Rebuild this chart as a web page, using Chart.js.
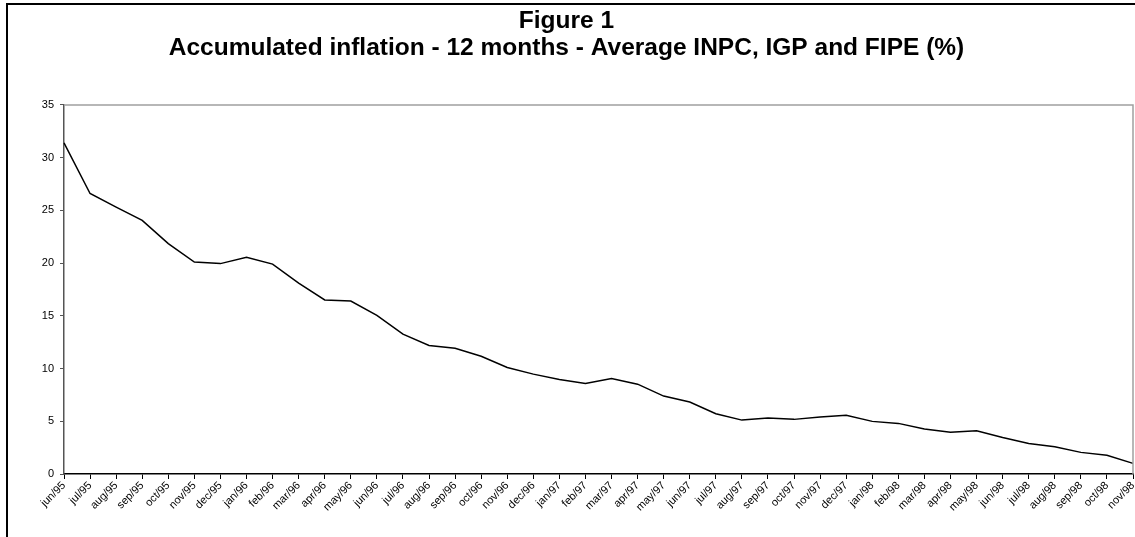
<!DOCTYPE html>
<html>
<head>
<meta charset="utf-8">
<script src="https://cdn.jsdelivr.net/npm/chart.js@4/dist/chart.umd.min.js"></script>
<style>
  html, body { margin: 0; padding: 0; background: #fff; overflow: hidden; }
  #frame { position: absolute; left: 6px; top: 3px; width: 2000px; height: 2000px;
           border-top: 2px solid #000; border-left: 2px solid #000; }
  #wrap { position: absolute; left: 0; top: 0; width: 1135px; height: 537px; }
</style>
</head>
<body>
<div id="frame"></div>
<div id="wrap"><canvas id="chart" width="1135" height="537"></canvas></div>
<script>
// Month labels, jun/95 through nov/98
const months = [
  'jun/95','jul/95','aug/95','sep/95','oct/95','nov/95','dec/95',
  'jan/96','feb/96','mar/96','apr/96','may/96','jun/96','jul/96','aug/96','sep/96','oct/96','nov/96','dec/96',
  'jan/97','feb/97','mar/97','apr/97','may/97','jun/97','jul/97','aug/97','sep/97','oct/97','nov/97','dec/97',
  'jan/98','feb/98','mar/98','apr/98','may/98','jun/98','jul/98','aug/98','sep/98','oct/98','nov/98'
];

// 12-month accumulated inflation, average of INPC, IGP and FIPE (%)
const inflation = [
  31.4, 26.6, 25.3, 24.05, 21.85, 20.1, 19.95,
  20.55, 19.9, 18.1, 16.5, 16.4, 15.05, 13.26, 12.19, 11.93, 11.17, 10.1, 9.47,
  8.97, 8.59, 9.06, 8.52, 7.39, 6.82, 5.71, 5.11, 5.3, 5.18, 5.4, 5.56,
  4.99, 4.8, 4.26, 3.95, 4.1, 3.47, 2.9, 2.59, 2.05, 1.77, 1.01
];

// Y axis range and step
const yMin = 0;
const yMax = 35;
const yStep = 5;

const titleLines = [
  'Figure 1',
  'Accumulated inflation - 12 months - Average INPC, IGP and FIPE (%)'
];

// Grey border along the top and right of the plot area
const plotFrame = {
  id: 'plotFrame',
  afterDatasetsDraw(chart) {
    const { ctx, chartArea: a } = chart;
    ctx.save();
    ctx.strokeStyle = '#a0a0a0';
    ctx.lineWidth = 1.5;
    ctx.beginPath();
    ctx.moveTo(a.left, a.top);
    ctx.lineTo(a.right, a.top);
    ctx.lineTo(a.right, a.bottom);
    ctx.stroke();
    ctx.restore();
  }
};

new Chart(document.getElementById('chart'), {
  type: 'line',
  data: {
    labels: months,
    datasets: [{
      data: inflation,
      borderColor: '#000',
      borderWidth: 1.5,
      pointRadius: 0,
      tension: 0,
      fill: false
    }]
  },
  options: {
    responsive: false,
    animation: false,
    layout: { padding: { left: 0, right: 2, top: 0, bottom: 0 } },
    plugins: {
      legend: { display: false },
      tooltip: { enabled: false },
      title: {
        display: true,
        text: titleLines,
        color: '#000',
        font: { family: 'Liberation Sans', size: 24.5, weight: 'bold', lineHeight: 1.1 },
        padding: { top: 8, bottom: 43 }
      }
    },
    scales: {
      x: {
        offset: false,
        grid: { display: true, drawOnChartArea: false, drawTicks: true, tickLength: 5, color: '#000' },
        border: { display: true, color: '#000', width: 1.5 },
        ticks: {
          autoSkip: false,
          maxRotation: 45,
          minRotation: 45,
          padding: 0,
          color: '#000',
          font: { family: 'Liberation Sans', size: 11 }
        },
        afterFit(scale) {
          scale.height = 63;
          scale.paddingLeft = 0;
          scale.paddingRight = 0;
        }
      },
      y: {
        min: yMin,
        max: yMax,
        grid: { display: true, drawOnChartArea: false, drawTicks: true, tickLength: 4, color: '#555' },
        border: { display: true, color: '#555', width: 1.5 },
        ticks: {
          stepSize: yStep,
          padding: 6,
          color: '#000',
          font: { family: 'Liberation Sans', size: 11 }
        },
        afterFit(scale) { scale.width = 64; }
      }
    }
  },
  plugins: [plotFrame]
});
</script>
</body>
</html>
